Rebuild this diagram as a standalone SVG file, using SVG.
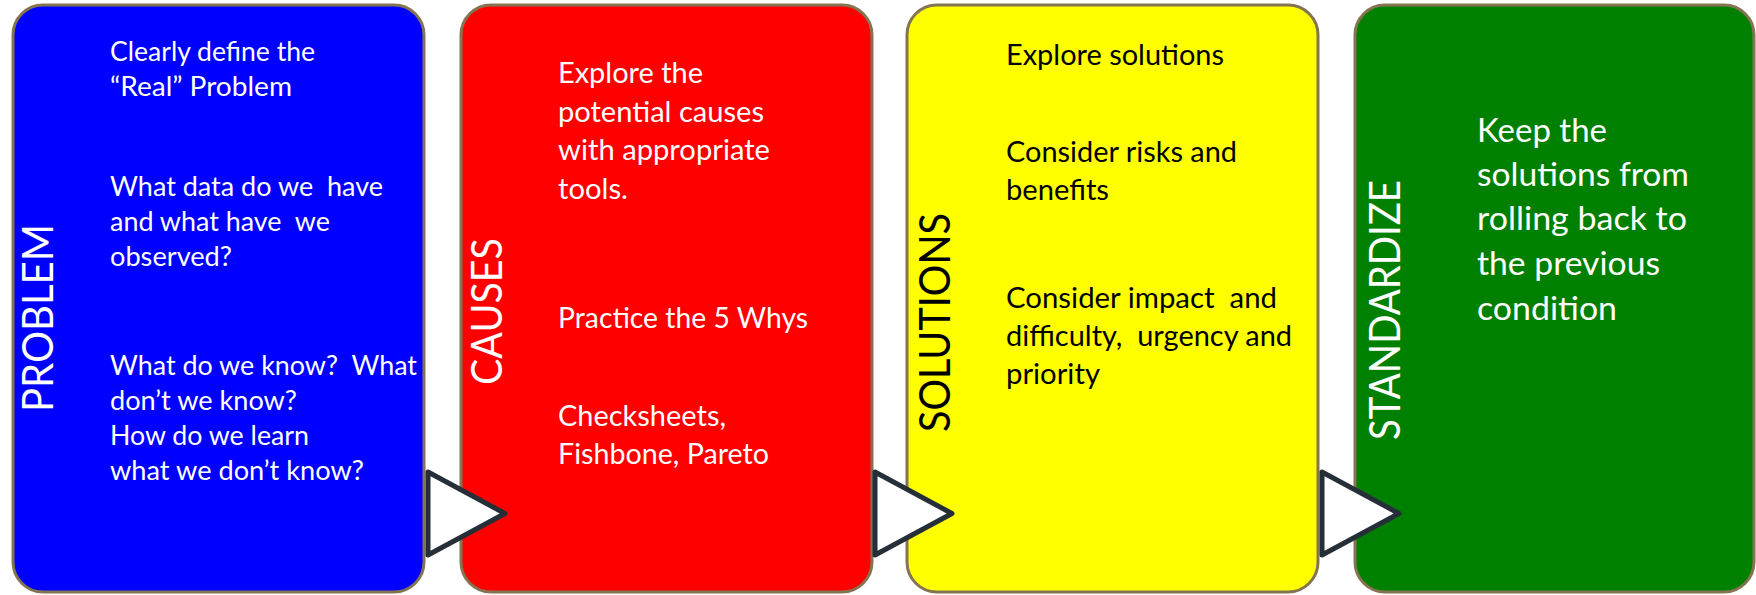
<svg xmlns="http://www.w3.org/2000/svg" width="1756" height="595" viewBox="0 0 1756 595">
<style>
.box{stroke:#857452;stroke-width:3}
.lbl{font-family:Lato,"Liberation Sans",sans-serif;font-size:43px;text-anchor:middle}
.t text{font-family:Lato,"Liberation Sans",sans-serif;white-space:pre}
.w{fill:#ffffff}
.k{fill:#000000}
.s1{font-size:26px}
.s2{font-size:28.5px}
.s3{font-size:33px}
.arr{fill:#ffffff;stroke:#262E38;stroke-width:5;stroke-linejoin:round}
</style>
<rect width="1756" height="595" fill="#ffffff"/>
<g id="problem">
<rect class="box" x="13" y="5" width="411" height="587" rx="30" fill="#0000FF"/>
<text class="lbl w" transform="translate(53,318) rotate(-90)" textLength="188" lengthAdjust="spacingAndGlyphs">PROBLEM</text>
<g class="t w s1">
<text x="110" y="61" textLength="205" lengthAdjust="spacingAndGlyphs">Clearly define the</text>
<text x="110" y="96" textLength="182" lengthAdjust="spacingAndGlyphs">“Real” Problem</text>
<text x="110" y="196" textLength="273" lengthAdjust="spacingAndGlyphs" xml:space="preserve">What data do we  have</text>
<text x="110" y="231" textLength="220" lengthAdjust="spacingAndGlyphs" xml:space="preserve">and what have  we</text>
<text x="110" y="266" textLength="122" lengthAdjust="spacingAndGlyphs">observed?</text>
<text x="110" y="375" textLength="307" lengthAdjust="spacingAndGlyphs" xml:space="preserve">What do we know?  What</text>
<text x="110" y="410" textLength="187" lengthAdjust="spacingAndGlyphs">don’t we know?</text>
<text x="110" y="445" textLength="199" lengthAdjust="spacingAndGlyphs">How do we learn</text>
<text x="110" y="480" textLength="254" lengthAdjust="spacingAndGlyphs">what we don’t know?</text>
</g>
</g>
<g id="causes">
<rect class="box" x="461" y="5" width="411" height="587" rx="30" fill="#FF0000"/>
<text class="lbl w" transform="translate(502,311.5) rotate(-90)" textLength="147" lengthAdjust="spacingAndGlyphs">CAUSES</text>
<g class="t w s2">
<text x="558" y="83" textLength="145" lengthAdjust="spacingAndGlyphs">Explore the</text>
<text x="558" y="122" textLength="206" lengthAdjust="spacingAndGlyphs">potential causes</text>
<text x="558" y="160" textLength="212" lengthAdjust="spacingAndGlyphs">with appropriate</text>
<text x="558" y="199" textLength="70" lengthAdjust="spacingAndGlyphs">tools.</text>
<text x="558" y="328" textLength="250" lengthAdjust="spacingAndGlyphs">Practice the 5 Whys</text>
<text x="558" y="426" textLength="168" lengthAdjust="spacingAndGlyphs">Checksheets,</text>
<text x="558" y="464" textLength="211" lengthAdjust="spacingAndGlyphs">Fishbone, Pareto</text>
</g>
</g>
<g id="solutions">
<rect class="box" x="907" y="5" width="411" height="587" rx="30" fill="#FFFF00"/>
<text class="lbl k" transform="translate(950,322.5) rotate(-90)" textLength="219" lengthAdjust="spacingAndGlyphs">SOLUTIONS</text>
<g class="t k s2">
<text x="1006" y="65" textLength="218" lengthAdjust="spacingAndGlyphs">Explore solutions</text>
<text x="1006" y="162" textLength="231" lengthAdjust="spacingAndGlyphs">Consider risks and</text>
<text x="1006" y="200" textLength="103" lengthAdjust="spacingAndGlyphs">benefits</text>
<text x="1006" y="308" textLength="271" lengthAdjust="spacingAndGlyphs" xml:space="preserve">Consider impact  and</text>
<text x="1006" y="346" textLength="286" lengthAdjust="spacingAndGlyphs" xml:space="preserve">difficulty,  urgency and</text>
<text x="1006" y="384" textLength="94" lengthAdjust="spacingAndGlyphs">priority</text>
</g>
</g>
<g id="standardize">
<rect class="box" x="1355" y="5" width="399" height="587" rx="30" fill="#008000"/>
<text class="lbl w" transform="translate(1400,310) rotate(-90)" textLength="260" lengthAdjust="spacingAndGlyphs">STANDARDIZE</text>
<g class="t w s3">
<text x="1477" y="142" textLength="130" lengthAdjust="spacingAndGlyphs">Keep the</text>
<text x="1477" y="186" textLength="212" lengthAdjust="spacingAndGlyphs">solutions from</text>
<text x="1477" y="230" textLength="210" lengthAdjust="spacingAndGlyphs">rolling back to</text>
<text x="1477" y="275" textLength="183" lengthAdjust="spacingAndGlyphs">the previous</text>
<text x="1477" y="320" textLength="140" lengthAdjust="spacingAndGlyphs">condition</text>
</g>
</g>
<g id="connectors">
<polygon class="arr" points="428,472 428,555 505,513.5"/>
<polygon class="arr" points="875,472 875,555 952,513.5"/>
<polygon class="arr" points="1322,472 1322,555 1399,513.5"/>
</g>
</svg>
